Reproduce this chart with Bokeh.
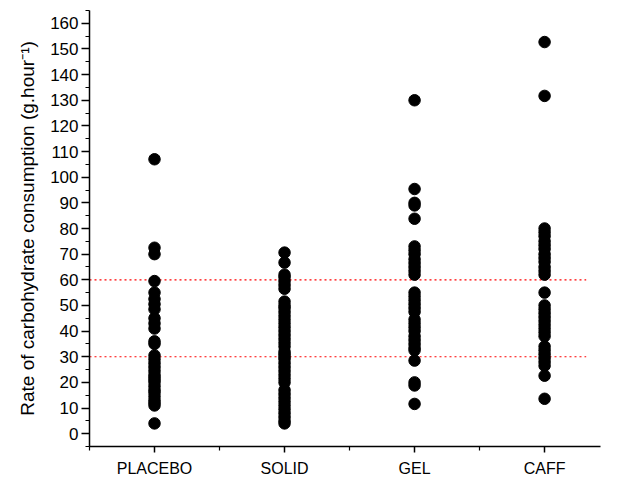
from bokeh.plotting import figure
from bokeh.models import Range1d, FixedTicker, ColumnDataSource
from bokeh.embed import file_html
from bokeh.resources import INLINE

categories = ["PLACEBO", "SOLID", "GEL", "CAFF"]

placebo = [107, 72.5, 70, 59.5, 55, 52.5, 50.5, 48.5, 45, 43, 41, 36, 35, 30.5,
           29, 27.5, 26, 24.5, 23, 22, 21, 20, 18.5, 17, 16, 14.5, 13, 12, 11, 4]
solid = [70.6, 66.7, 62, 61, 59.5, 58, 56.5, 51.5, 50, 49, 47.5, 46, 44.5, 43,
         41.5, 40, 38.5, 37, 35.5, 34, 32, 31, 30, 29, 27.5, 26, 24.5, 23, 21.5,
         20, 17, 15.5, 14, 12.5, 11, 9.5, 8, 6.5, 5, 4]
gel = [130, 95.4, 90, 89, 83.8, 73, 71.5, 70, 68, 66.5, 65, 63.5, 62, 55, 53.5,
       52, 50.5, 49, 47.5, 44.5, 43, 41.5, 40, 38, 36.5, 35, 33.5, 32.5, 28.5,
       20, 18.8, 11.6]
caff = [152.7, 131.7, 80, 78.5, 77, 75, 73.5, 72, 70, 68.5, 67, 65, 63.5, 62,
        55, 50, 48.5, 47, 45.5, 44, 42.5, 41, 39.5, 38, 34, 32.5, 31, 29.5, 28,
        26.5, 22.6, 13.6]

series = [placebo, solid, gel, caff]
ref_levels = [30, 60]
ref_x = [0.5, 4.32]

y_major = list(range(0, 161, 10))
y_minor = [v + 5 for v in range(-10, 161, 10)]

xs, ys = [], []
for i, vals in enumerate(series):
    xs += [i + 1] * len(vals)
    ys += vals
src = ColumnDataSource(dict(x=xs, y=ys))

p = figure(width=626, height=479, output_backend="svg", toolbar_location=None,
           x_range=Range1d(0.5, 4.43), y_range=Range1d(-5, 165),
           min_border_left=89, min_border_right=26, min_border_top=10,
           min_border_bottom=31)
p.outline_line_color = None
p.grid.visible = False
p.background_fill_color = "white"

for lvl in ref_levels:
    p.line(ref_x, [lvl, lvl], line_color="red", line_width=1.2, line_dash="2 3")

p.scatter("x", "y", source=src, size=11.5, fill_color="black", line_color="black")

font = "Liberation Sans"
p.xaxis.ticker = FixedTicker(ticks=[i + 1 for i in range(len(categories))],
                             minor_ticks=[i + 0.5 for i in range(len(categories) + 1)])
p.xaxis.major_label_overrides = {i + 1: c for i, c in enumerate(categories)}
p.yaxis.ticker = FixedTicker(ticks=y_major, minor_ticks=y_minor)
p.yaxis.axis_label = "Rate of carbohydrate consumption (g.hour\u207b\u00b9)"

for ax in [p.xaxis[0], p.yaxis[0]]:
    ax.axis_line_width = 1.5
    ax.axis_line_color = "black"
    ax.major_tick_line_color = "black"
    ax.minor_tick_line_color = "black"
    ax.major_tick_line_width = 1.5
    ax.minor_tick_line_width = 1.2
    ax.major_tick_in = 0
    ax.minor_tick_in = 0
    ax.major_label_text_font = font
    ax.major_label_text_color = "black"
    ax.axis_label_text_font = font
    ax.axis_label_text_font_style = "normal"
    ax.axis_label_text_color = "black"

p.xaxis.major_tick_out = 6
p.xaxis.minor_tick_out = 4
p.yaxis.major_tick_out = 8
p.yaxis.minor_tick_out = 4
p.xaxis.major_label_text_font_size = "16px"
p.yaxis.major_label_text_font_size = "17px"
p.xaxis.major_label_standoff = 7
p.yaxis.major_label_standoff = 3
p.yaxis.axis_label_text_font_size = "19px"
p.yaxis.axis_label_standoff = 9

open("out.html", "w").write(file_html(p, INLINE))
